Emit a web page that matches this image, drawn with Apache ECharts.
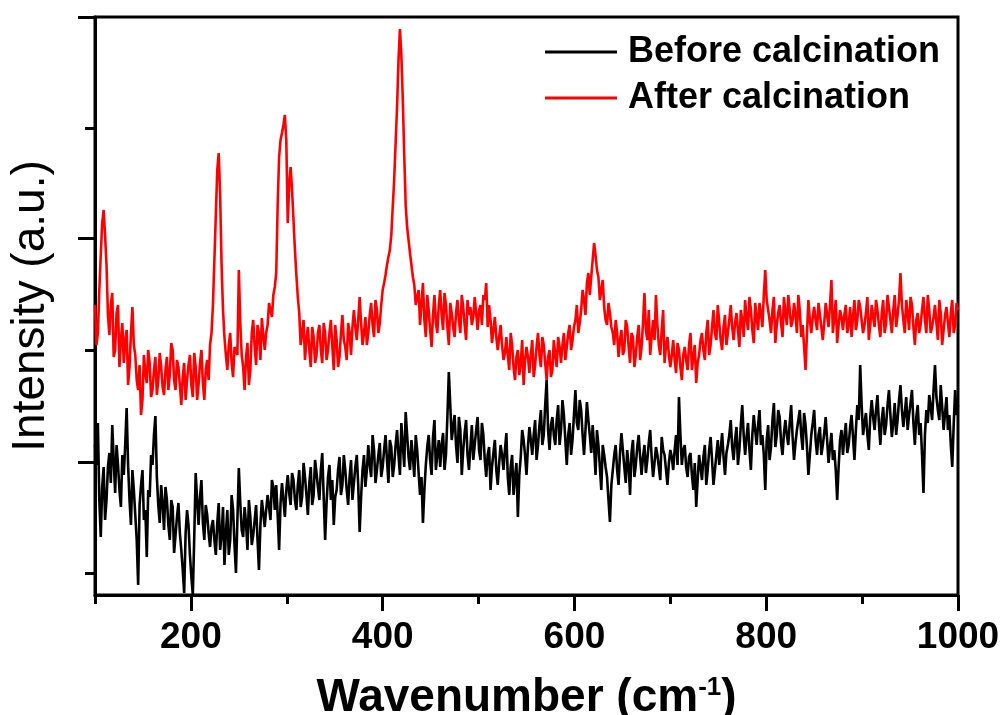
<!DOCTYPE html>
<html><head><meta charset="utf-8">
<script src="https://cdn.jsdelivr.net/npm/echarts@6/dist/echarts.min.js"></script>
<style>html,body{margin:0;padding:0;background:#fff}#c{width:1004px;height:715px}</style>
</head><body><div id="c"></div>
<script>
// Raman shift grids (cm^-1): main samples every 3 cm^-1, plus the samples half-way between them
const wavenumbers = Array.from({length: 301}, (_, i) => 100 + 3 * i);
const midWavenumbers = Array.from({length: 300}, (_, i) => 101.5 + 3 * i);

// Intensity (a.u.), at wavenumbers
const beforeCalcination = [
150,172,58,128,95,142,170,102,130,88,
120,187,95,125,80,10,110,75,38,98,
130,179,90,110,65,95,55,88,60,92,
45,2,85,40,0,122,70,115,55,80,
48,75,40,92,60,30,85,55,85,22,
127,65,88,45,78,60,90,25,95,68,
100,75,108,110,45,112,78,120,90,115,
85,125,98,118,80,128,100,122,95,142,
55,118,95,70,105,138,110,125,90,135,
112,140,63,125,108,150,118,145,125,152,
128,160,112,148,130,165,120,150,183,138,
155,118,145,100,72,130,160,120,175,140,
128,162,140,223,155,180,132,165,145,175,
125,170,150,178,135,160,118,148,128,155,
110,150,125,162,100,140,118,78,138,155,
120,168,140,175,150,185,160,215,145,178,
150,190,165,180,130,172,155,205,165,185,
140,193,160,170,120,150,105,140,118,73,
125,150,110,162,128,145,100,155,130,160,
120,150,135,165,118,148,128,158,140,110,
145,125,160,198,130,150,118,142,105,88,
140,115,150,125,158,110,140,130,162,120,
150,175,135,168,145,190,140,172,125,180,
150,185,160,105,170,148,192,160,178,140,
175,150,190,135,165,185,145,170,120,160,
185,140,168,150,178,132,162,145,95,155,
140,172,150,180,135,190,230,160,182,145,
195,165,200,150,188,170,205,158,192,175,
210,168,198,180,205,150,190,172,102,185,
200,175,230,185,210,165,198,180,128,205,190
];
// ... and at midWavenumbers
const beforeCalcinationMid = [
130,95,108,75,128,112,135,150,105,140,
150,130,70,105,55,90,125,85,105,140,
160,118,72,92,108,70,95,42,78,62,
25,62,70,18,58,95,98,72,90,62,
68,55,72,45,88,62,40,100,50,75,
92,58,72,95,50,75,55,70,82,85,
88,115,85,80,92,95,105,102,122,95,
110,88,132,100,112,90,135,108,125,98,
92,130,115,98,125,100,140,105,118,95,
128,110,98,140,125,130,160,112,140,118,
145,135,155,118,150,140,172,128,160,125,
138,160,122,118,105,148,135,158,125,155,
150,125,178,190,168,150,178,120,162,140,
148,135,165,145,172,135,140,105,142,125,
132,140,145,118,128,100,132,120,165,140,
148,155,160,135,170,150,190,165,170,160,
175,150,195,155,160,140,180,172,195,160,
165,175,142,148,165,128,150,128,95,110,
140,125,142,145,112,130,142,118,148,138,
138,122,152,138,132,140,115,145,125,132,
138,145,130,160,145,128,138,120,132,115,
128,138,110,145,135,125,155,145,138,142,
160,148,155,130,170,160,158,145,160,165,
170,150,140,155,135,175,148,185,152,162,
160,172,158,152,175,160,182,148,140,172,
155,160,140,162,155,148,135,125,128,165,
158,142,168,158,165,175,190,172,160,178,
178,185,172,175,160,190,180,172,160,195,
185,182,165,192,172,178,160,140,160,172,
188,205,198,175,188,182,165,150,170,180
];
const afterCalcination = [
290,262,340,385,330,260,302,245,290,255,
232,265,228,288,240,205,180,240,212,232,
205,238,215,228,200,238,220,245,205,228,
190,232,215,240,198,228,210,245,195,235,
250,290,380,442,330,258,225,262,218,250,
325,240,205,252,225,275,230,262,277,245,
270,285,300,322,438,462,480,372,428,375,
320,282,262,235,268,228,258,240,270,232,
262,245,275,225,255,238,280,248,272,240,
285,255,298,250,278,262,292,258,285,272,
305,320,338,360,415,488,566,495,390,355,
330,310,298,270,312,258,285,248,300,262,
305,265,290,250,282,258,295,262,288,255,
280,270,298,265,290,300,312,290,252,278,
245,270,235,258,225,250,215,245,232,210,
248,222,255,230,262,228,250,215,245,225,
240,258,232,262,248,270,255,275,262,285,
295,312,300,335,340,318,305,288,270,282,
262,275,238,265,245,268,232,258,240,270,
248,302,255,240,275,300,250,265,232,258,
228,255,222,245,215,248,225,262,238,212,
240,262,235,275,250,285,255,272,245,280,
262,290,255,282,248,275,295,265,285,252,
278,292,268,325,285,262,298,270,290,258,
282,300,268,292,262,285,270,225,295,262,
288,265,280,255,292,268,315,278,252,285,
265,290,270,258,295,275,288,262,282,255,
290,268,285,258,295,272,288,262,300,280,
322,275,295,265,290,250,282,270,298,262,
285,268,290,255,282,265,288,258,295,270,285
];
const afterCalcinationMid = [
250,305,372,360,280,290,238,282,228,272,
255,210,262,250,215,230,195,222,245,198,
225,200,242,208,225,205,252,215,235,210,
218,195,230,210,242,195,232,212,225,215,
262,335,425,400,285,240,250,232,248,240,
272,228,238,210,262,248,270,235,260,262,
292,278,308,390,455,470,455,410,405,345,
298,250,275,255,245,268,232,262,245,272,
235,262,248,270,228,262,255,235,262,268,
268,275,272,262,250,280,270,295,262,290,
312,330,345,388,452,535,540,440,368,342,
318,290,305,292,275,300,265,280,272,290,
280,302,268,292,268,282,275,300,270,295,
288,278,282,285,270,295,268,275,265,258,
258,250,242,240,262,228,238,220,255,235,
238,240,218,248,240,258,232,238,218,255,
228,248,250,235,262,245,268,290,272,305,
280,322,318,352,325,295,315,275,292,268,
250,262,255,240,275,248,262,228,258,235,
272,265,285,258,255,270,240,285,250,240,
240,235,252,228,240,235,250,225,250,232,
255,245,262,240,268,262,290,255,268,250,
275,268,272,265,285,258,278,298,265,292,
265,282,300,295,275,285,252,282,272,298,
270,285,275,280,300,258,248,262,275,278,
275,292,268,272,280,290,262,295,270,278,
280,262,288,278,265,295,275,270,298,270,
278,295,270,282,262,300,275,285,268,295,
290,262,282,298,268,275,262,285,275,300,
262,278,272,295,250,280,272,282,262,292
];

const seriesNames = ['Before calcination', 'After calcination'];
const xMajorTicks = [200, 400, 600, 800, 1000];
const xMinorTicks = [100, 300, 500, 700, 900];
const yMajorTicks = [133, 357, 578];
const yMinorTicks = [22, 245, 467];

function spectrum(main, mid) {
  const pts = [];
  for (let i = 0; i < wavenumbers.length; i++) {
    pts.push([wavenumbers[i], main[i]]);
    if (i < midWavenumbers.length) pts.push([midWavenumbers[i], mid[i]]);
  }
  return pts;
}

const font = '"Liberation Sans", Arial, Helvetica, sans-serif';
const chart = echarts.init(document.getElementById('c'), null, {renderer: 'canvas'});
const tickStyle = {color: '#000', width: 3};

chart.setOption({
  animation: false,
  backgroundColor: '#fff',
  grid: {left: 95, right: 46, top: 17, bottom: 120, outerBoundsMode: 'none', containLabel: false,
         show: true, borderColor: '#000', borderWidth: 3, backgroundColor: 'transparent'},
  legend: {
    orient: 'vertical', left: 545, top: 32, padding: 0,
    icon: 'rect', itemWidth: 72, itemHeight: 3, itemGap: 6,
    textStyle: {fontSize: 36, fontWeight: 'bold', fontFamily: font, color: '#000', lineHeight: 40, padding: [0, 0, 0, 6]},
    data: seriesNames
  },
  xAxis: [{
    type: 'value', min: 100, max: 1000, position: 'bottom',
    axisLine: {show: true, lineStyle: tickStyle},
    axisTick: {show: true, customValues: xMajorTicks, length: 16, lineStyle: tickStyle},
    axisLabel: {customValues: xMajorTicks, formatter: v => String(v), fontSize: 37, fontWeight: 'bold', fontFamily: font, color: '#000', margin: 24},
    splitLine: {show: false},
    name: '{a|Wavenumber (cm}{s|-1}{a|)}',
    nameLocation: 'middle', nameGap: 80,
    nameTextStyle: {
      lineHeight: 56,
      rich: {
        a: {fontSize: 46, fontWeight: 'bold', fontFamily: font, color: '#000', lineHeight: 46, verticalAlign: 'bottom'},
        s: {fontSize: 26, fontWeight: 'bold', fontFamily: font, color: '#000', lineHeight: 20, verticalAlign: 'top'}
      }
    }
  }, {
    type: 'value', min: 100, max: 1000, position: 'bottom',
    axisLine: {show: false},
    axisTick: {show: true, customValues: xMinorTicks, length: 9, lineStyle: tickStyle},
    axisLabel: {show: false}, splitLine: {show: false}
  }],
  yAxis: [{
    type: 'value', min: 0, max: 578, position: 'left',
    axisLine: {show: true, lineStyle: tickStyle},
    axisTick: {show: true, customValues: yMajorTicks, length: 17, lineStyle: tickStyle},
    axisLabel: {show: false},
    splitLine: {show: false},
    name: 'Intensity (a.u.)', nameLocation: 'middle', nameGap: 41,
    nameTextStyle: {fontSize: 46, fontFamily: font, color: '#000', fontWeight: 'normal'}
  }, {
    type: 'value', min: 0, max: 578, position: 'left',
    axisLine: {show: false},
    axisTick: {show: true, customValues: yMinorTicks, length: 10, lineStyle: tickStyle},
    axisLabel: {show: false}, splitLine: {show: false}
  }],
  series: [{
    name: seriesNames[0], type: 'line', xAxisIndex: 0, yAxisIndex: 0,
    symbol: 'none', color: '#000000', lineStyle: {width: 2.6, color: '#000000'},
    data: spectrum(beforeCalcination, beforeCalcinationMid)
  }, {
    name: seriesNames[1], type: 'line', xAxisIndex: 0, yAxisIndex: 0,
    symbol: 'none', color: '#ff0000', lineStyle: {width: 2.6, color: '#ff0000'},
    data: spectrum(afterCalcination, afterCalcinationMid)
  }]
});
</script>
</body></html>
